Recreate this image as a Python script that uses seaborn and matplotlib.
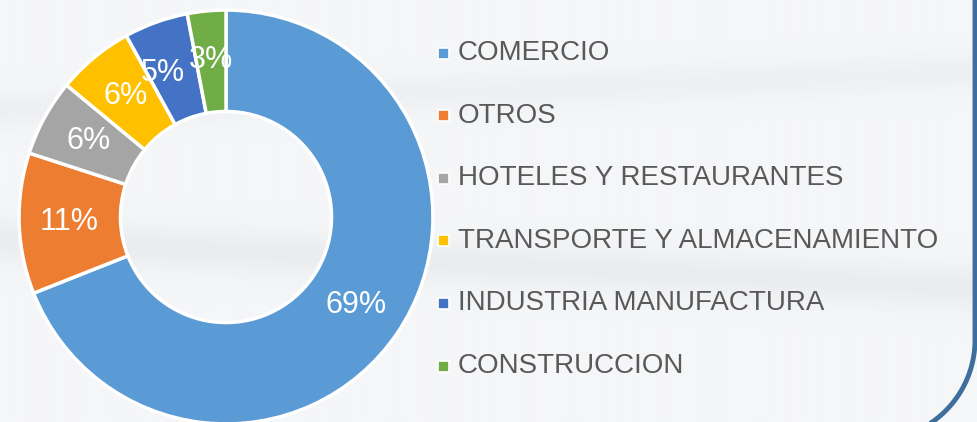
import numpy as np
import matplotlib
matplotlib.use("Agg")
import matplotlib.pyplot as plt
import seaborn as sns
from matplotlib.patches import Rectangle
from matplotlib.colors import LinearSegmentedColormap

# datos del grafico
sectores = ["COMERCIO", "OTROS", "HOTELES Y RESTAURANTES",
            "TRANSPORTE Y ALMACENAMIENTO", "INDUSTRIA MANUFACTURA", "CONSTRUCCION"]
porcentajes = [69, 11, 6, 6, 5, 3]
colores = ["#5B9BD5", "#ED7D31", "#A5A5A5", "#FFC000", "#4472C4", "#70AD47"]

sns.set_theme(style="white")
plt.rcParams["font.family"] = ["Liberation Sans", "DejaVu Sans"]

W, H = 977, 422
fig = plt.figure(figsize=(W / 100, H / 100), dpi=100)

# fondo gris claro con bandas suaves
bg = fig.add_axes([0, 0, 1, 1], zorder=-10)
yy = np.linspace(0, H, 211)[:, None]
xx = np.linspace(0, W, 489)[None, :]
fondo = 1 - 0.6 * np.exp(-((yy - 240 - 0.05 * xx) / 22) ** 2) \
        - 0.4 * np.exp(-((yy - 110 + 0.04 * xx) / 18) ** 2)
cmap = LinearSegmentedColormap.from_list("fondo", ["#e4e6e9", "#f5f6f8"])
bg.imshow(fondo, cmap=cmap, vmin=0, vmax=1, aspect="auto", extent=[0, W, H, 0])
bg.set_xlim(0, W)
bg.set_ylim(H, 0)
bg.axis("off")

# marco azul redondeado (esquina inferior derecha)
t = np.linspace(0, np.pi / 2, 60)
mx = np.concatenate([[975, 975], 875 + 100 * np.cos(t)])
my = np.concatenate([[-5, 340], 340 + 100 * np.sin(t)])
bg.plot(mx, my, color="#3E6E9C", linewidth=3.5, solid_capstyle="round")

# dona
cx, cy, r = 226, 217, 209
ax = fig.add_axes([(cx - r) / W, (H - cy - r) / H, 2 * r / W, 2 * r / H])
wedges, textos, autotextos = ax.pie(
    porcentajes, colors=sns.color_palette(colores), startangle=90, counterclock=False,
    radius=1, autopct="%1.0f%%", pctdistance=0.76,
    wedgeprops=dict(width=0.49, edgecolor="white", linewidth=2.5),
    textprops=dict(color="white", fontsize=22))

# separar un poco la etiqueta del 5% de la del 3% (como en el original)
x5, y5 = autotextos[4].get_position()
a = np.deg2rad(4)
autotextos[4].set_position((x5 * np.cos(a) - y5 * np.sin(a), x5 * np.sin(a) + y5 * np.cos(a)))

ax.set_xlim(-1.01, 1.01)
ax.set_ylim(-1.01, 1.01)
ax.set_facecolor("none")
ax.axis("off")

# leyenda
y0, paso = 53, 62.6
for i, (nombre, c) in enumerate(zip(sectores, colores)):
    y = y0 + i * paso
    fig.add_artist(Rectangle((438 / W, (H - y - 5.5) / H), 11 / W, 11 / H,
                             transform=fig.transFigure, facecolor=c,
                             edgecolor="white", linewidth=1.2))
    fig.text(458 / W, (H - y) / H, nombre, fontsize=20, color="#595959",
             va="center", ha="left")

fig.savefig("out.png", dpi=100)
